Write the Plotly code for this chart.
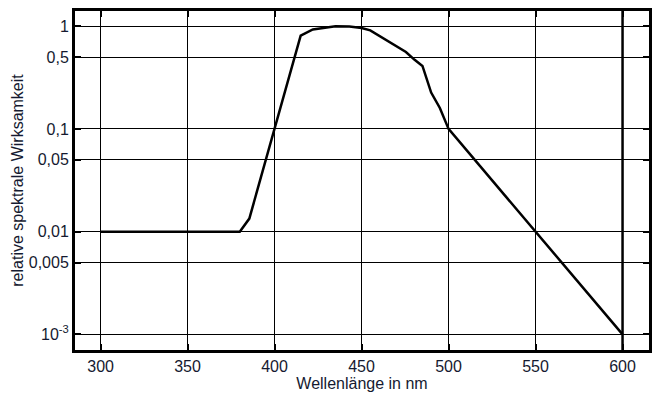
import plotly.graph_objects as go

# Data
wavelength_nm = [300, 380, 385.5, 415, 422, 428, 435, 443, 450, 455, 464, 475.5, 480.5, 485, 490, 495, 500, 600]
rel_efficacy = [0.01, 0.01, 0.0134, 0.81, 0.93, 0.967, 1.0, 0.99, 0.96, 0.91, 0.73, 0.56, 0.47, 0.41, 0.226, 0.16, 0.1, 0.001]

x_ticks = [300, 350, 400, 450, 500, 550, 600]
y_ticks = [1, 0.5, 0.1, 0.05, 0.01, 0.005, 0.001]
y_tick_text = ["1", "0,5", "0,1", "0,05", "0,01", "0,005", "10<sup>-3</sup>"]

x_title = "Wellenlänge in nm"
y_title = "relative spektrale Wirksamkeit"

label_color = "#151a30"
font_family = "Liberation Sans, Arial, sans-serif"

fig = go.Figure()
fig.add_trace(go.Scatter(
    x=wavelength_nm, y=rel_efficacy, mode="lines",
    line=dict(color="black", width=2.5), showlegend=False,
))

# thicker vertical reference line at the last x tick
fig.add_shape(type="line", xref="x", yref="paper",
              x0=x_ticks[-1], x1=x_ticks[-1], y0=0, y1=1,
              line=dict(color="black", width=2.5), layer="above")

fig.update_layout(
    width=656, height=394,
    margin=dict(l=75, r=7, t=11, b=44),
    paper_bgcolor="white", plot_bgcolor="white",
    font=dict(family=font_family, size=16, color=label_color),
)
fig.update_xaxes(
    range=[285.3, 615.2], tickvals=x_ticks, automargin=False,
    showgrid=True, gridcolor="black", gridwidth=1,
    showline=True, linecolor="black", linewidth=3, mirror="allticks",
    ticks="inside", ticklen=6, tickwidth=2, tickcolor="black",
    zeroline=False,
    title=dict(text=x_title, standoff=0, font=dict(size=16, color=label_color)),
    tickfont=dict(size=16, color=label_color),
)
fig.update_yaxes(
    type="log", range=[-3.152, 0.1476], automargin=False,
    tickvals=y_ticks, ticktext=y_tick_text,
    showgrid=True, gridcolor="black", gridwidth=1,
    showline=True, linecolor="black", linewidth=3, mirror="allticks",
    ticks="inside", ticklen=6, tickwidth=2, tickcolor="black",
    zeroline=False,
    title=dict(text=y_title, standoff=2, font=dict(size=16, color=label_color)),
    tickfont=dict(size=16, color=label_color),
)

fig.write_html("out.html", config={"displayModeBar": False},
               post_script="document.body.style.margin='0';")
